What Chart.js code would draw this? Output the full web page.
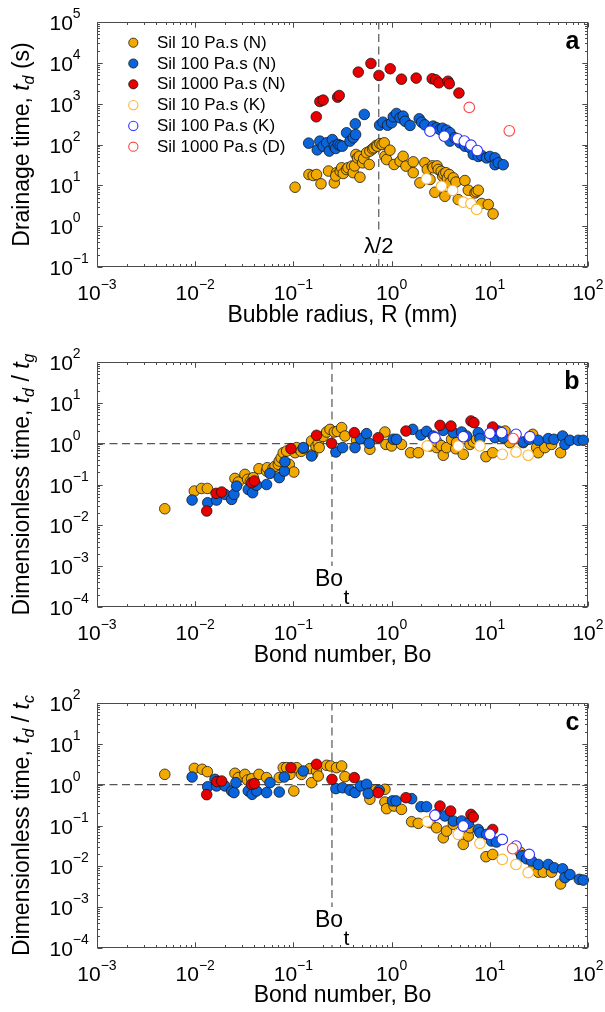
<!DOCTYPE html>
<html><head><meta charset="utf-8">
<script src="https://cdn.jsdelivr.net/npm/chart.js@4.4.1/dist/chart.umd.min.js"></script>
<style>
html,body{margin:0;padding:0;background:#fff;}
body{width:605px;height:1012px;position:relative;overflow:hidden;}
canvas{position:absolute;left:0;}
</style></head><body>
<canvas id="ca" width="605" height="340" style="top:0px"></canvas>
<canvas id="cb" width="605" height="345" style="top:330px"></canvas>
<canvas id="cc" width="605" height="352" style="top:660px"></canvas>
<script>
// ---------- series labels ----------
const seriesLabels = ['Sil 10 Pa.s (N)','Sil 100 Pa.s (N)','Sil 1000 Pa.s (N)','Sil 10 Pa.s (K)','Sil 100 Pa.s (K)','Sil 1000 Pa.s (D)'];

// ---------- panel a : [R (mm), t_d (s)] ----------
const aSil10N = [[0.104,9.0],[0.144,18.4],[0.159,17.4],[0.172,18.4],[0.191,10.9],[0.228,22.4],[0.261,11.5],[0.275,20.4],[0.27,17],[0.30,22],[0.310,26.9],[0.322,19.5],[0.348,24.5],[0.36,27],[0.394,29.6],[0.407,20.4],[0.42,30],[0.433,57],[0.45,47],[0.469,51.5],[0.476,15.8],[0.507,35.6],[0.52,45],[0.556,63],[0.601,69],[0.592,32.4],[0.64,78],[0.661,83],[0.70,95],[0.715,91],[0.760,105],[0.80,100],[0.842,110],[0.855,51.5],[0.889,42.8],[0.962,72.5],[1.06,32.4],[1.22,38.9],[1.31,51.5],[1.40,29.6],[1.66,37.6],[1.66,20.4],[1.94,11.5],[2.18,35.6],[2.31,24.5],[2.46,13.9],[2.6,30],[2.65,26.9],[2.76,6.76],[2.9,30],[2.99,24.5],[3.2,22],[3.31,16.7],[3.4,19],[3.49,5.4],[3.57,20.4],[3.7,15],[3.87,18.4],[3.93,11.5],[4.25,15.2],[4.52,12.0],[4.77,4.47],[5.58,13.1],[6.04,7.6],[7.06,6.5],[7.3,7.0],[7.63,7.6],[8.26,3.58],[9.65,3.39],[10.8,2.0]];
const aSil100N = [[0.143,108],[0.175,74],[0.186,121],[0.201,91],[0.218,110],[0.232,69],[0.249,132],[0.261,91],[0.27,80],[0.286,100],[0.30,95],[0.315,91],[0.348,194],[0.377,121],[0.407,146],[0.430,176],[0.427,321],[0.527,545],[0.755,298],[0.816,352],[0.910,298],[1.0,340],[1.04,477],[1.12,575],[1.22,450],[1.31,495],[1.37,372],[1.54,293],[1.91,426],[2.02,352],[2.18,303],[2.65,282],[2.87,256],[3.11,233],[3.3,250],[3.63,224],[3.93,194],[3.93,121],[4.41,146],[4.97,110],[5.58,91],[6.28,83],[6.79,57],[7.63,51],[8.26,54],[9.27,47],[10.0,51],[11.3,47],[11.3,32],[12.2,35.5],[13.7,32]];
const aSil1000N = [[0.171,477],[0.186,1132],[0.201,1222],[0.282,1445],[0.293,1585],[0.458,5930],[0.616,9660],[0.743,4910],[0.969,7160],[1.26,3980],[1.78,4230],[2.59,4080],[2.81,3850],[3.03,3240],[3.75,3550],[3.87,3080],[4.85,1820]];
const aSil10K = [[2.27,14.4],[3.23,9.5],[4.18,7.5],[5.37,3.87],[6.43,3.58],[7.34,2.57]];
const aSil100K = [[2.46,212],[3.44,160],[4.70,138],[5.50,121],[6.43,96],[7.45,71]];
const aSil1000D = [[6.18,807],[15.8,216]];

// ---------- panel b : [Bo, t_d/t_g] ----------
const bSil10N = [[0.0049,0.0255],[0.0098,0.069],[0.0116,0.080],[0.0133,0.080],[0.0254,0.141],[0.0275,0.115],[0.0321,0.177],[0.0342,0.134],[0.0365,0.12],[0.0391,0.147],[0.0446,0.244],[0.0533,0.214],[0.0542,0.258],[0.062,0.25],[0.065,0.28],[0.0702,0.311],[0.0718,0.376],[0.075,0.45],[0.0788,0.60],[0.0853,0.66],[0.0908,0.311],[0.101,0.202],[0.104,0.60],[0.108,0.80],[0.12,0.65],[0.126,0.77],[0.153,1.16],[0.157,0.55],[0.17,0.85],[0.179,1.02],[0.183,0.80],[0.20,1.5],[0.218,1.93],[0.236,2.24],[0.261,1.93],[0.28,2.0],[0.310,2.47],[0.335,1.54],[0.440,1.21],[0.601,0.73],[0.855,1.93],[0.875,0.96],[1.0,0.88],[1.26,0.96],[1.56,0.60],[1.87,0.60],[2.46,0.88],[2.87,0.80],[2.9,1.1],[3.2,0.9],[3.36,0.52],[3.63,0.80],[4.08,1.28],[4.5,0.75],[4.59,1.06],[5.37,0.55],[6.28,0.96],[6.8,1.1],[7.34,1.28],[9.14,0.48],[10.7,0.60],[14.3,2.04],[16.0,1.06],[21.9,1.06],[27.3,1.69],[30.0,0.80],[31.2,0.60],[36.4,0.80],[42.6,0.96],[52.6,0.60]];
const bSil100N = [[0.0093,0.0416],[0.0134,0.0358],[0.0165,0.0416],[0.0201,0.0573],[0.0235,0.0432],[0.0248,0.0573],[0.0264,0.0913],[0.0347,0.0758],[0.0384,0.0630],[0.0422,0.0955],[0.0533,0.100],[0.0577,0.187],[0.0718,0.147],[0.0807,0.214],[0.0820,0.362],[0.126,0.80],[0.153,0.50],[0.271,0.625],[0.317,0.80],[0.424,0.80],[0.483,1.33],[0.556,1.76],[0.592,1.02],[1.04,1.28],[1.12,1.28],[1.64,2.24],[1.99,1.63],[2.27,2.0],[2.65,1.54],[3.36,2.12],[4.25,1.86],[5.16,1.93],[5.80,1.54],[7.63,1.86],[7.94,1.33],[11.3,1.40],[12.2,2.04],[13.7,1.40],[21.9,1.10],[25.2,1.28],[31.2,1.21],[39.4,1.33],[45.0,1.28],[55.1,1.54],[58.2,0.96],[65.5,1.21],[79.6,1.21],[89.5,1.21]];
const bSil1000N = [[0.0131,0.0224],[0.0163,0.0607],[0.0186,0.0654],[0.0375,0.111],[0.040,0.122],[0.0944,0.754],[0.172,1.60],[0.245,1.02],[0.417,1.86],[0.731,1.40],[1.40,2.04],[3.11,2.81],[4.02,2.71],[6.43,3.60],[6.89,3.27],[10.7,2.56]];
const bSil10K = [[2.31,0.88],[4.77,0.88],[7.94,0.88],[13.4,0.55],[18.5,0.625],[24.6,0.52]];
const bSil100K = [[2.76,1.40],[5.37,1.48],[10.0,1.79],[13.2,1.86],[18.5,1.69],[25.6,1.48]];
const bSil1000D = [[17.3,1.33]];

// ---------- panel c : [Bo, t_d/t_c] ----------
const cSil10N = [[0.0049,1.79],[0.0098,2.51],[0.0118,2.38],[0.0133,2.08],[0.0254,1.90],[0.0275,1.49],[0.0321,1.79],[0.034,1.30],[0.0376,1.40],[0.0446,1.79],[0.0533,1.49],[0.0718,1.49],[0.0788,2.61],[0.0853,2.61],[0.0922,1.79],[0.101,0.70],[0.108,2.61],[0.121,1.79],[0.147,2.47],[0.153,1.12],[0.172,2.16],[0.179,1.63],[0.218,2.98],[0.239,2.87],[0.275,2.61],[0.310,2.87],[0.335,1.57],[0.601,0.44],[0.692,0.74],[0.855,0.77],[0.855,0.376],[0.889,0.258],[1.06,0.30],[1.26,0.248],[1.60,0.124],[1.87,0.113],[2.46,0.117],[2.87,0.088],[3.36,0.050],[3.63,0.073],[4.25,0.107],[5.37,0.0345],[6.04,0.0552],[6.28,0.088],[9.14,0.0172],[10.7,0.0196],[20.3,0.0224],[21.9,0.0179],[27.7,0.0088],[31.2,0.0072],[35.1,0.0072],[42.6,0.0072],[52.6,0.0037]];
const cSil100N = [[0.0093,1.54],[0.0134,0.89],[0.0159,1.35],[0.0165,0.93],[0.0201,0.93],[0.0235,0.70],[0.0248,0.64],[0.026,1.12],[0.0347,0.70],[0.038,0.58],[0.0422,0.70],[0.0533,0.64],[0.0577,1.12],[0.0718,0.66],[0.0807,1.54],[0.126,2.16],[0.271,0.80],[0.317,0.84],[0.377,0.73],[0.424,0.64],[0.483,0.93],[0.556,1.02],[0.578,0.61],[0.748,0.73],[1.02,0.40],[1.11,0.40],[1.60,0.454],[1.99,0.289],[2.27,0.289],[2.87,0.187],[3.49,0.171],[4.25,0.129],[5.16,0.129],[6.04,0.113],[7.63,0.080],[7.94,0.0667],[9.27,0.0607],[10.4,0.0417],[11.7,0.0394],[21.1,0.0179],[23.7,0.0153],[26.7,0.0135],[31.2,0.0111],[39.4,0.0111],[45.3,0.0092],[55.1,0.0087],[58.2,0.0053],[65.5,0.0063],[81.5,0.0048],[89.5,0.0046]];
const cSil1000N = [[0.0131,0.569],[0.0166,1.19],[0.0186,1.23],[0.0375,1.02],[0.040,1.06],[0.0944,2.61],[0.172,3.15],[0.247,1.35],[0.417,1.49],[0.731,0.64],[1.40,0.48],[3.11,0.30],[3.99,0.226],[6.43,0.187],[6.79,0.161],[10.7,0.080]];
const cSil10K = [[2.31,0.124],[4.77,0.0607],[7.94,0.0365],[13.4,0.0148],[18.5,0.0111],[24.6,0.0070]];
const cSil100K = [[2.76,0.177],[5.37,0.097],[10.0,0.0607],[13.4,0.0457],[18.5,0.0314],[25.2,0.0196]];
const cSil1000D = [[17.1,0.027]];

// ---------- reference lines & tick labels ----------
const lambdaHalf = 0.74;      // mm
const boT = 0.247;            // transition Bond number
const unityLine = 1;
const xTickExp = [-3,-2,-1,0,1,2];
const yTickExpA = [-1,0,1,2,3,4,5];
const yTickExpBC = [-4,-3,-2,-1,0,1,2];
const xTitles = ['Bubble radius, R (mm)','Bond number, Bo','Bond number, Bo'];
const yTitles = [
  [['Drainage time, ','n'],['t','i'],['d','s'],[' (s)','n']],
  [['Dimensionless time, ','n'],['t','i'],['d','s'],[' / ','n'],['t','i'],['g','s']],
  [['Dimensionless time, ','n'],['t','i'],['d','s'],[' / ','n'],['t','i'],['c','s']]
];

// ---------- styles ----------
const FF = "'Liberation Sans', Arial, Helvetica, sans-serif";
const fillCols = ['#F2A900','#0A64DC','#E80000'];
const openCols = ['#FFB52E','#2E2EFF','#FF4545'];

function pts(arr){ return arr.map(p=>({x:p[0],y:p[1]})); }

function makeSets(series){
  const sets = [];
  for(let i=0;i<6;i++){
    const filled = i<3;
    sets.push({
      label: seriesLabels[i],
      data: pts(series[i]),
      backgroundColor: filled ? fillCols[i] : '#ffffff',
      borderColor: filled ? 'rgba(20,20,20,0.85)' : openCols[i-3],
      borderWidth: filled ? 0.9 : 1.1,
      pointRadius: 5.3,
      pointHoverRadius: 5.3,
      order: 6-i,
      clip: 6,
      isSeries: true
    });
  }
  return sets;
}

function dashSet(data){
  return {label:'', data:data, showLine:true, pointRadius:0, borderColor:'#555555', borderWidth:1.2, borderDash:[8,4.5], order:10, isSeries:false, fill:false};
}

function richDraw(ctx, segs, x0, y0){
  let x=x0;
  for(const s of segs){
    let f, dy=0;
    if(s[1]==='n') f='23px '+FF;
    else if(s[1]==='i') f='italic 23px '+FF;
    else { f='italic 16px '+FF; dy=5; }
    ctx.font=f; ctx.fillText(s[0], x, y0+dy);
    x+=ctx.measureText(s[0]).width;
  }
}
function richWidth(ctx, segs){
  let w=0;
  for(const s of segs){
    ctx.font = s[1]==='n' ? '23px '+FF : (s[1]==='i' ? 'italic 23px '+FF : 'italic 16px '+FF);
    w+=ctx.measureText(s[0]).width;
  }
  return w;
}

function expStr(e){ return e<0 ? '\u2212'+Math.abs(e) : String(e); }

function decoPlugin(cfg){
  return {
    id:'deco_'+cfg.letter,
    afterDatasetsDraw(chart){
      const {ctx, chartArea:{left,right,top,bottom}, scales:{x,y}} = chart;
      ctx.save();
      ctx.strokeStyle='#4a4a4a'; ctx.lineWidth=1;
      const L=Math.round(left)+0.5, R=Math.round(right)-0.5, T=Math.round(top)+0.5, B=Math.round(bottom)-0.5;
      ctx.strokeRect(L,T,R-L,B-T);
      ctx.beginPath();
      for(let e=-3;e<2;e++){
        for(let k=1;k<=10;k++){
          const v=k*Math.pow(10,e);
          if(v<x.min*0.999||v>x.max*1.001) continue;
          const px=Math.round(x.getPixelForValue(v))+0.5;
          const len=(k===1||k===10)?5:2.5;
          ctx.moveTo(px,B); ctx.lineTo(px,B-len);
          ctx.moveTo(px,T); ctx.lineTo(px,T+len);
        }
      }
      const e0=Math.round(Math.log10(y.min)), e1=Math.round(Math.log10(y.max));
      for(let e=e0;e<e1;e++){
        for(let k=1;k<=10;k++){
          const v=k*Math.pow(10,e);
          const py=Math.round(y.getPixelForValue(v))+0.5;
          const len=(k===1||k===10)?5:2.5;
          ctx.moveTo(L,py); ctx.lineTo(L+len,py);
          ctx.moveTo(R,py); ctx.lineTo(R-len,py);
        }
      }
      ctx.stroke();
      ctx.restore();
    },
    afterDraw(chart){
      const {ctx, chartArea:{left,right,top,bottom}, scales:{x,y}} = chart;
      ctx.save();
      ctx.fillStyle='#000';
      ctx.textBaseline='alphabetic';
      ctx.textAlign='left';
      // x tick labels
      for(const e of xTickExp){
        const px=x.getPixelForValue(Math.pow(10,e));
        ctx.font='21px '+FF; const w1=ctx.measureText('10').width;
        ctx.font='14px '+FF; const w2=ctx.measureText(expStr(e)).width;
        const sx=px-(w1+w2)/2;
        ctx.font='21px '+FF; ctx.fillText('10',sx,bottom+33);
        ctx.font='14px '+FF; ctx.fillText(expStr(e),sx+w1,bottom+21.5);
      }
      // y tick labels
      for(const e of cfg.yExp){
        const py=y.getPixelForValue(Math.pow(10,e));
        ctx.font='21px '+FF; const w1=ctx.measureText('10').width;
        ctx.fillText('10',49.5,py+8);
        ctx.font='14px '+FF; ctx.fillText(expStr(e),49.5+w1,py-4);
      }
      // y title (rotated)
      ctx.save();
      ctx.translate(28.5,(top+bottom)/2);
      ctx.rotate(-Math.PI/2);
      const W=richWidth(ctx,cfg.yTitle);
      richDraw(ctx,cfg.yTitle,-W/2,0);
      ctx.restore();
      // panel letter
      ctx.font='bold 25px '+FF; ctx.textAlign='right';
      ctx.fillText(cfg.letter,right-8.5,top+26.5);
      ctx.textAlign='left';
      // annotation (text on white box, like the reference)
      if(cfg.annot==='lambda'){
        const vx=x.getPixelForValue(lambdaHalf);
        ctx.font='22px '+FF;
        const w=ctx.measureText('\u03BB/2').width;
        ctx.fillStyle='#fff'; ctx.fillRect(vx-w/2-1,bottom-33,w+2,20);
        ctx.fillStyle='#000'; ctx.textAlign='center';
        ctx.fillText('\u03BB/2',vx,bottom-14.5);
        ctx.textAlign='left';
      } else {
        const vx=x.getPixelForValue(boT);
        ctx.font='23px '+FF;
        const wb=ctx.measureText('Bo').width;
        ctx.font='21px '+FF;
        const wt=ctx.measureText('t').width;
        ctx.fillStyle='#fff'; ctx.fillRect(vx-18,bottom-41,wb+wt+3,38);
        ctx.fillStyle='#000';
        ctx.font='23px '+FF; ctx.fillText('Bo',vx-17,bottom-21);
        ctx.font='21px '+FF; ctx.fillText('t',vx-17+wb+0.5,bottom-2.8);
      }
      // legend
      if(cfg.legend){
        const ds=chart.data.datasets.filter(d=>d.isSeries);
        ds.forEach((d,i)=>{
          const cy=42.7+i*20.8;
          ctx.beginPath(); ctx.arc(133.3,cy,4.6,0,Math.PI*2);
          ctx.fillStyle=d.backgroundColor; ctx.fill();
          ctx.lineWidth=d.borderWidth; ctx.strokeStyle=d.borderColor; ctx.stroke();
          ctx.fillStyle='#000'; ctx.font='17px '+FF; ctx.textBaseline='middle';
          ctx.fillText(d.label,157,cy+0.5);
          ctx.textBaseline='alphabetic';
        });
      }
      ctx.restore();
    }
  };
}

function makePanel(cfg){
  const datasets = makeSets(cfg.series);
  for(const l of cfg.lines) datasets.push(dashSet(l));
  return new Chart(document.getElementById(cfg.id), {
    type:'scatter',
    data:{datasets},
    options:{
      responsive:false, animation:false, devicePixelRatio:1,
      layout:{padding:{left:0,right:17,top:cfg.top,bottom:0}},
      plugins:{legend:{display:false}, tooltip:{enabled:false}},
      events:[],
      scales:{
        x:{type:'logarithmic',min:1e-3,max:1e2,grid:{display:false},border:{display:false},ticks:{display:false},
           title:{display:true,text:cfg.xTitle,color:'#000',font:{family:FF,size:23,lineHeight:1.2},padding:{top:0,bottom:cfg.titlePad}},
           afterFit:(s)=>{s.height=cfg.H-cfg.bottom;}},
        y:{type:'logarithmic',min:cfg.yMin,max:cfg.yMax,grid:{display:false},border:{display:false},ticks:{display:false},
           afterFit:(s)=>{s.width=97;}}
      }
    },
    plugins:[decoPlugin(cfg)]
  });
}

makePanel({id:'ca',H:340,top:22,bottom:267,yMin:0.1,yMax:1e5,yExp:yTickExpA,xTitle:xTitles[0],titlePad:11,letter:'a',
  yTitle:yTitles[0],annot:'lambda',legend:true,
  series:[aSil10N,aSil100N,aSil1000N,aSil10K,aSil100K,aSil1000D],
  lines:[[{x:lambdaHalf,y:0.1},{x:lambdaHalf,y:1e5}]]});
makePanel({id:'cb',H:345,top:32,bottom:277,yMin:1e-4,yMax:1e2,yExp:yTickExpBC,xTitle:xTitles[1],titlePad:5.7,letter:'b',
  yTitle:yTitles[1],annot:'bo',legend:false,
  series:[bSil10N,bSil100N,bSil1000N,bSil10K,bSil100K,bSil1000D],
  lines:[[{x:boT,y:1e-4},{x:boT,y:1e2}],[{x:1e-3,y:unityLine},{x:1e2,y:unityLine}]]});
makePanel({id:'cc',H:352,top:43,bottom:288,yMin:1e-4,yMax:1e2,yExp:yTickExpBC,xTitle:xTitles[2],titlePad:2.4,letter:'c',
  yTitle:yTitles[2],annot:'bo',legend:false,
  series:[cSil10N,cSil100N,cSil1000N,cSil10K,cSil100K,cSil1000D],
  lines:[[{x:boT,y:1e-4},{x:boT,y:1e2}],[{x:1e-3,y:unityLine},{x:1e2,y:unityLine}]]});
</script></body></html>
